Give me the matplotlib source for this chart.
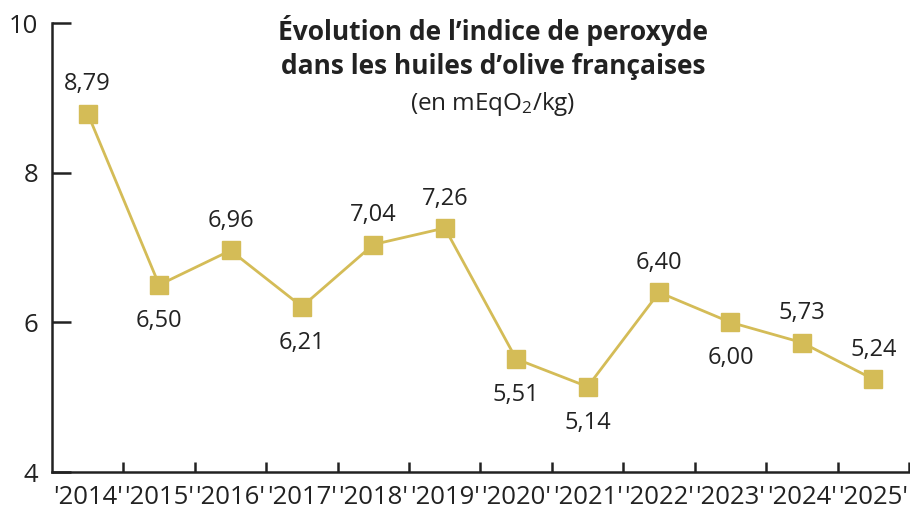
import matplotlib
matplotlib.use("Agg")
import matplotlib.pyplot as plt
from matplotlib.ticker import FixedLocator

years = ["'2014'", "'2015'", "'2016'", "'2017'", "'2018'", "'2019'",
         "'2020'", "'2021'", "'2022'", "'2023'", "'2024'", "'2025'"]
values = [8.79, 6.50, 6.96, 6.21, 7.04, 7.26, 5.51, 5.14, 6.40, 6.00, 5.73, 5.24]
label_pos = ["above", "below", "above", "below", "above", "above",
             "below", "below", "above", "below", "above", "above"]
yticks = [4, 6, 8, 10]

plt.rcParams['font.family'] = ['Open Sans', 'DejaVu Sans']
plt.rcParams['mathtext.fontset'] = 'custom'
plt.rcParams['mathtext.rm'] = 'Open Sans'
plt.rcParams['mathtext.it'] = 'Open Sans'

color = '#D4BC57'
txt = '#222222'

fig = plt.figure(figsize=(9.10, 5.08), dpi=100)
ax = fig.add_axes([52/910, 36/508, 857/910, 449/508])

x = list(range(len(values)))
ax.plot(x, values, color=color, lw=2, marker='s', ms=12.5, mec=color, mfc=color, zorder=3, clip_on=False)

for xi, v, p in zip(x, values, label_pos):
    s = f"{v:.2f}".replace('.', ',')
    dy = 21 if p == "above" else -26
    ax.annotate(s, (xi, v), xytext=(0, dy), textcoords='offset points',
                ha='center', va='center', fontsize=17, color=txt)

ax.set_xlim(-0.5, len(values) - 0.5)
ax.set_ylim(4, 10)
ax.set_yticks(yticks)
ax.set_yticklabels([str(t) for t in yticks])
ax.set_xticks(x)
ax.set_xticklabels(years)
ax.xaxis.set_minor_locator(FixedLocator([i + 0.5 for i in range(len(values))]))
ax.tick_params(axis='x', which='major', length=0, pad=9, labelsize=18.5, labelcolor=txt)
ax.tick_params(axis='x', which='minor', length=7, width=1.8, direction='in', color=txt)
ax.tick_params(axis='y', length=14, width=1.8, direction='in', pad=10, labelsize=18.5,
               labelcolor=txt, color=txt)

for s in ['top', 'right']:
    ax.spines[s].set_visible(False)
for s in ['left', 'bottom']:
    ax.spines[s].set_linewidth(1.8)
    ax.spines[s].set_color(txt)

fig.text(493/910, 1 - 30/508, "Évolution de l’indice de peroxyde",
         ha='center', va='center', fontsize=19, fontweight='bold', color=txt)
fig.text(493/910, 1 - 66/508, "dans les huiles d’olive françaises",
         ha='center', va='center', fontsize=19, fontweight='bold', color=txt)
fig.text(493/910, 1 - 104/508, r"(en mEqO$_2$/kg)", ha='center', va='center', fontsize=17.5,
         color=txt)

fig.savefig('out.png', dpi=100)
